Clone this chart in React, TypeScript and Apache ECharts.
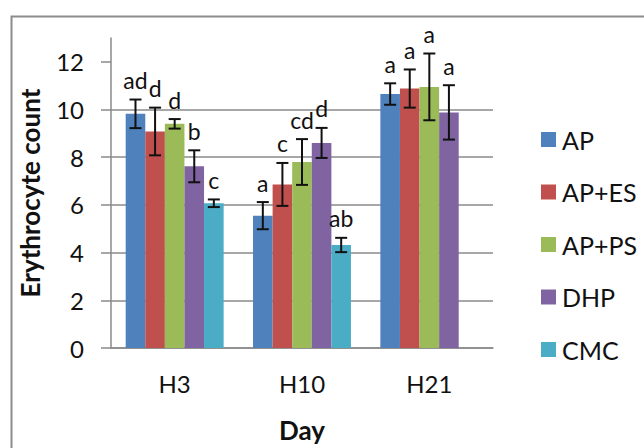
import React, { useEffect, useRef } from "react";
import * as echarts from "echarts";

const categories = ["H3", "H10", "H21"];
const seriesNames = ["AP", "AP+ES", "AP+PS", "DHP", "CMC"];
const seriesColors = ["#4F81BD", "#C0504D", "#9BBB59", "#8064A2", "#4BACC6"];

const apValues = [9.82, 5.55, 10.65];
const apEsValues = [9.08, 6.86, 10.88];
const apPsValues = [9.4, 7.8, 10.95];
const dhpValues = [7.62, 8.6, 9.88];
const cmcValues: (number | null)[] = [6.07, 4.32, null];

const apErrors = [0.6, 0.57, 0.45];
const apEsErrors = [1.0, 0.9, 0.8];
const apPsErrors = [0.2, 0.96, 1.4];
const dhpErrors = [0.67, 0.63, 1.14];
const cmcErrors: (number | null)[] = [0.16, 0.3, null];

const apLetters = ["ad", "a", "a"];
const apEsLetters = ["d", "c", "a"];
const apPsLetters = ["d", "cd", "a"];
const dhpLetters = ["b", "d", "a"];
const cmcLetters = ["c", "ab", ""];

const yTicks = [0, 2, 4, 6, 8, 10, 12];

const allValues = [apValues, apEsValues, apPsValues, dhpValues, cmcValues];
const allErrors = [apErrors, apEsErrors, apPsErrors, dhpErrors, cmcErrors];
const allLetters = [apLetters, apEsLetters, apPsLetters, dhpLetters, cmcLetters];

export default function App() {
  const ref = useRef<HTMLDivElement>(null);
  useEffect(() => {
    if (!ref.current) return;
    const chart = echarts.init(ref.current, null, { renderer: "svg" });
    const font = "Lato, 'Open Sans', sans-serif";
    const nSeries = seriesNames.length;

    const errItems: { cat: number; s: number; v: number; e: number; letter: string }[] = [];
    allValues.forEach((vals, s) => {
      vals.forEach((v, c) => {
        const e = allErrors[s][c];
        if (v == null || e == null) return;
        errItems.push({ cat: c, s, v, e, letter: allLetters[s][c] });
      });
    });

    const gridColor = "#8a8a8a";

    const option: any = {
      animation: false,
      textStyle: { fontFamily: font },
      graphic: [
        {
          type: "rect",
          left: 9,
          top: 14,
          shape: { width: 700, height: 500 },
          style: { fill: "none", stroke: "#8c8c8c", lineWidth: 2 },
          silent: true,
        },
      ],
      grid: { left: 111, right: 151, top: 38, bottom: 99 },
      legend: {
        orient: "vertical",
        left: 536,
        top: 122,
        itemWidth: 15,
        itemHeight: 15,
        itemGap: 27.5,
        icon: "rect",
        textStyle: { fontSize: 25, fontFamily: font, color: "#111", lineHeight: 25, padding: [0, 0, 0, 1] },
        data: seriesNames,
      },
      xAxis: {
        type: "category",
        data: categories,
        name: "Day",
        nameLocation: "middle",
        nameGap: 69,
        nameTextStyle: { fontSize: 26, fontWeight: "bold", color: "#111", fontFamily: font },
        axisLine: { lineStyle: { color: gridColor, width: 1.5 } },
        axisTick: { length: 8, lineStyle: { color: gridColor, width: 1.5 } },
        axisLabel: { fontSize: 24, color: "#111", margin: 23, fontFamily: font },
      },
      yAxis: {
        type: "value",
        min: 0,
        max: 13,
        interval: 2,
        name: "Erythrocyte count",
        nameLocation: "middle",
        nameGap: 68,
        nameTextStyle: { fontSize: 26, fontWeight: "bold", color: "#111", fontFamily: font },
        axisLine: { show: true, lineStyle: { color: gridColor, width: 1.5 } },
        axisTick: {
          show: true,
          length: 10,
          customValues: yTicks,
          lineStyle: { color: gridColor, width: 1.5 },
        },
        axisLabel: {
          fontSize: 24,
          color: "#111",
          margin: 27,
          fontFamily: font,
          customValues: yTicks,
        },
        splitLine: {
          show: true,
          showMaxLine: false,
          lineStyle: { color: gridColor, width: 1.5 },
        },
      },
      series: [
        ...seriesNames.map((name, s) => ({
          name,
          type: "bar",
          data: allValues[s],
          barGap: "0%",
          barCategoryGap: "23.08%",
          itemStyle: { color: seriesColors[s] },
        })),
        {
          type: "custom",
          name: "errors",
          data: errItems.map((d) => [d.cat, d.v, d.e, d.s]),
          encode: { x: 0, y: 1 },
          z: 10,
          renderItem: (params: any, api: any) => {
            const item = errItems[params.dataIndex];
            const cat = api.value(0);
            const v = api.value(1);
            const e = api.value(2);
            const s = api.value(3);
            const base = api.coord([cat, 0]);
            const band = api.size([1, 0])[0];
            const barW = band / (nSeries + 1.5);
            const x = base[0] - (nSeries / 2) * barW + (s + 0.5) * barW;
            const yTop = api.coord([cat, v + e])[1];
            const yBot = api.coord([cat, v - e])[1];
            const cap = 6;
            const ls = { stroke: "#111", lineWidth: 2 };
            return {
              type: "group",
              children: [
                { type: "line", shape: { x1: x, y1: yTop, x2: x, y2: yBot }, style: ls },
                { type: "line", shape: { x1: x - cap, y1: yTop, x2: x + cap, y2: yTop }, style: ls },
                { type: "line", shape: { x1: x - cap, y1: yBot, x2: x + cap, y2: yBot }, style: ls },
                {
                  type: "text",
                  x: x,
                  y: yTop - 8,
                  style: {
                    text: item.letter,
                    fontSize: 23,
                    fontFamily: font,
                    fill: "#111",
                    align: "center",
                    verticalAlign: "bottom",
                  },
                },
              ],
            };
          },
        },
      ],
    };
    chart.setOption(option);
    return () => chart.dispose();
  }, []);
  return (
    <div
      ref={ref}
      style={{ position: "absolute", left: 0, top: 0, width: 644, height: 448, background: "#fff" }}
    />
  );
}
